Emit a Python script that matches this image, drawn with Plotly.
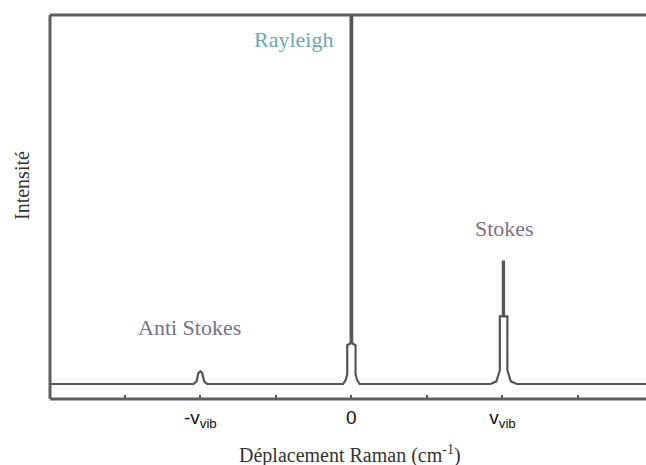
import plotly.graph_objects as go

# Raman spectrum traced as a polyline: Raman shift (units of the vibrational
# spacing scale) and intensity (arbitrary units).
shift = [
    -3.99, -2.09, -2.05, -2.025, -2.0, -1.975, -1.95, -1.91,
    -0.11, -0.075, -0.055, -0.055, -0.01, -0.01, 0.01, 0.01, 0.055, 0.055, 0.075, 0.11,
    1.84, 1.92, 1.965, 1.965, 2.005, 2.005, 2.02, 2.02, 2.065, 2.065, 2.11, 2.19,
    3.9,
]
intensity = [
    3.9, 3.9, 4.6, 6.8, 7.2, 6.8, 4.6, 3.9,
    3.9, 5.0, 6.5, 14.0, 14.5, 125.0, 125.0, 14.5, 14.0, 6.5, 5.0, 3.9,
    3.9, 4.6, 7.5, 21.5, 21.5, 35.8, 35.8, 21.5, 21.5, 7.5, 4.6, 3.9,
    3.9,
]

tick_vals = [-2, 0, 2]
tick_text = ["-v<sub>vib</sub>", "0", "v<sub>vib</sub>"]
minor_tick_vals = [-3, -1, 1, 3]

peak_labels = ["Rayleigh", "Stokes", "Anti Stokes"]
peak_label_x = [-0.76, 2.03, -2.14]
peak_label_y = [93.5, 44.5, 18.5]
peak_label_colors = ["#6aa9b9", "#7b7188", "#7b7188"]

SERIF = "Liberation Serif"
FRAME = "#5f5f5f"

fig = go.Figure()
fig.add_trace(go.Scatter(
    x=shift, y=intensity, mode="lines",
    line=dict(color="#555555", width=2.2),
    hoverinfo="skip", showlegend=False,
))

for text, xv, yv, col in zip(peak_labels, peak_label_x, peak_label_y, peak_label_colors):
    fig.add_annotation(
        x=xv, y=yv, xref="x", yref="y", text=text, showarrow=False,
        font=dict(family=SERIF, size=22, color=col),
    )

# axis titles
fig.add_annotation(
    x=-28 / 596, y=(399 - 186) / 384, xref="paper", yref="paper",
    xanchor="center", yanchor="middle",
    text="Intensité", showarrow=False, textangle=-90,
    font=dict(family=SERIF, size=20, color="#333333"),
)
fig.add_annotation(
    x=(350 - 50) / 596, y=-(454 - 399) / 384, xref="paper", yref="paper",
    xanchor="center", yanchor="middle",
    text="Déplacement Raman (cm<sup>-1</sup>)", showarrow=False,
    font=dict(family=SERIF, size=20, color="#333333"),
)

# open frame: left, top and bottom edges
for x0, y0, x1, y1 in [(0, 0, 1.02, 0), (0, 1, 1.02, 1), (0, 0, 0, 1)]:
    fig.add_shape(type="line", xref="paper", yref="paper",
                  x0=x0, y0=y0, x1=x1, y1=y1,
                  line=dict(color=FRAME, width=3))

fig.update_layout(
    width=646, height=465,
    margin=dict(l=50, r=0, t=15, b=66),
    paper_bgcolor="white", plot_bgcolor="white",
    xaxis=dict(
        range=[-3.99, 3.9], tickvals=tick_vals, ticktext=tick_text,
        ticks="inside", ticklen=4, tickwidth=2, tickcolor="#555555",
        ticklabelstandoff=5,
        minor=dict(tickvals=minor_tick_vals, ticks="inside", ticklen=4,
                   tickwidth=2, tickcolor="#555555", showgrid=False),
        showgrid=False, zeroline=False, showline=False,
        tickfont=dict(family="Liberation Sans", size=19, color="#111111"),
    ),
    yaxis=dict(
        range=[0, 100], showticklabels=False, ticks="",
        showgrid=False, zeroline=False, showline=False,
    ),
)

fig.write_html("out.html")
